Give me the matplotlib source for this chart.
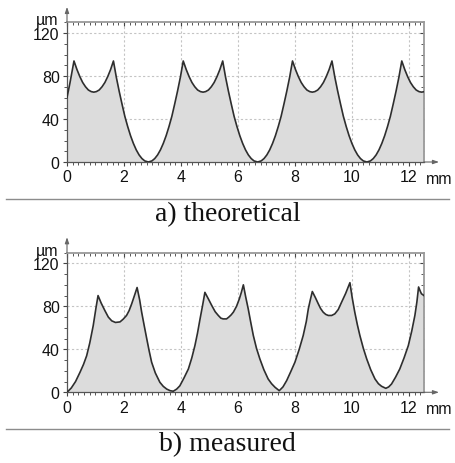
import matplotlib
matplotlib.use("Agg")
import matplotlib.pyplot as plt
from matplotlib.ticker import MultipleLocator
from matplotlib.lines import Line2D

# ---------------- data ----------------
theo_x = [0.00, 0.10, 0.245, 0.35, 0.45, 0.55, 0.65, 0.75, 0.85, 0.94, 1.03, 1.13, 1.23, 1.33, 1.43, 1.53, 1.63,
          1.73, 1.83, 1.93, 2.03, 2.13, 2.23, 2.33, 2.43, 2.53, 2.63, 2.73, 2.855, 2.98, 3.08, 3.18, 3.28, 3.38,
          3.48, 3.58, 3.68, 3.78, 3.88, 3.98, 4.08,
          4.185, 4.285, 4.385, 4.485, 4.585, 4.685, 4.775, 4.865, 4.965, 5.065, 5.165, 5.265, 5.365, 5.465,
          5.565, 5.665, 5.765, 5.865, 5.965, 6.065, 6.165, 6.265, 6.365, 6.465, 6.565, 6.69, 6.815, 6.915,
          7.015, 7.115, 7.215, 7.315, 7.415, 7.515, 7.615, 7.715, 7.815, 7.915,
          8.02, 8.12, 8.22, 8.32, 8.42, 8.52, 8.61, 8.70, 8.80, 8.90, 9.00, 9.10, 9.20, 9.30,
          9.40, 9.50, 9.60, 9.70, 9.80, 9.90, 10.00, 10.10, 10.20, 10.30, 10.40, 10.525, 10.65, 10.75,
          10.85, 10.95, 11.05, 11.15, 11.25, 11.35, 11.45, 11.55, 11.65, 11.75,
          11.855, 11.955, 12.055, 12.155, 12.255, 12.355, 12.445, 12.53]
theo_y = [60, 73, 94, 86, 79.5, 74, 70, 67, 65.5, 65, 65.5, 67, 70, 74, 79.5, 86, 94,
          79, 66, 54, 42.5, 33, 24.5, 17.3, 11.3, 6.6, 3.2, 1.0, 0, 1.0, 3.2, 6.6, 11.3, 17.3,
          24.5, 33, 42.5, 54, 66, 79, 94,
          86, 79.5, 74, 70, 67, 65.5, 65, 65.5, 67, 70, 74, 79.5, 86, 94,
          79, 66, 54, 42.5, 33, 24.5, 17.3, 11.3, 6.6, 3.2, 1.0, 0, 1.0, 3.2,
          6.6, 11.3, 17.3, 24.5, 33, 42.5, 54, 66, 79, 94,
          86, 79.5, 74, 70, 67, 65.5, 65, 65.5, 67, 70, 74, 79.5, 86, 94,
          79, 66, 54, 42.5, 33, 24.5, 17.3, 11.3, 6.6, 3.2, 1.0, 0, 1.0, 3.2,
          6.6, 11.3, 17.3, 24.5, 33, 42.5, 54, 66, 79, 94,
          86, 79.5, 74, 70, 67, 65.5, 65, 65.4]

meas_x = [0.00, 0.15, 0.30, 0.456, 0.58, 0.69, 0.80, 0.92, 1.02, 1.09, 1.20, 1.33, 1.45, 1.57, 1.70, 1.86,
          1.97, 2.09, 2.18, 2.27, 2.38, 2.46, 2.55, 2.62, 2.71, 2.80, 2.88, 2.97, 3.10, 3.26, 3.38, 3.50,
          3.62, 3.73, 3.85, 3.96, 4.10, 4.26, 4.38, 4.49, 4.58, 4.67, 4.76, 4.84, 4.96, 5.08, 5.20, 5.31,
          5.40, 5.48, 5.60, 5.68, 5.76, 5.84, 5.95, 6.05, 6.12, 6.19, 6.27, 6.36, 6.45, 6.54, 6.65, 6.77,
          6.91, 7.06, 7.18, 7.30, 7.45, 7.58, 7.71, 7.85, 8.00, 8.15, 8.29, 8.40, 8.47, 8.54, 8.61, 8.72,
          8.82, 8.90, 8.99, 9.08, 9.17, 9.29, 9.40, 9.52, 9.64, 9.78, 9.93, 10.01, 10.10, 10.19, 10.28,
          10.40, 10.52, 10.66, 10.81, 10.93, 11.04, 11.19, 11.29, 11.39, 11.53, 11.68, 11.83, 11.98,
          12.10, 12.21, 12.28, 12.34, 12.40, 12.44, 12.53]
meas_y = [0, 4, 10, 18.6, 26, 34, 46, 62, 79, 90, 83, 76, 70, 66.5, 65, 65.5,
          68, 71.5, 76, 82.3, 91, 97.5, 86, 74.6, 62, 49.7, 39, 28, 18, 9.3, 5.5, 3,
          1.5, 1, 3, 6, 13, 21.7, 32, 43.5, 55, 68.3, 81, 93, 87, 80.8, 75, 71.5,
          69, 68.3, 68.3, 70, 72, 74.6, 80, 87, 93, 100, 89, 77.7, 65, 52.8, 41, 31,
          21, 12.4, 8, 4.7, 1.5, 5, 10.9, 19, 28, 40, 52.8, 66, 77.7, 86, 93.8, 88,
          82.3, 78, 74.6, 72.5, 71.5, 71.5, 73, 77, 84, 92, 102, 88, 74.6, 63, 52.8,
          41, 31, 21, 12.4, 8, 5.6, 3.7, 5, 7.7, 14, 21.7, 32, 43.5,
          57, 71.5, 84, 98, 94, 91.7, 90]

x_ticks = [0, 2, 4, 6, 8, 10, 12]
x_tick_labels = ["0", "2", "4", "6", "8", "10", "12"]
y_ticks = [0, 40, 80, 120]
y_tick_labels = ["0", "40", "80", "120"]
captions = ["a) theoretical", "b) measured"]
x_unit = "mm"
y_unit = "µm"

# ---------------- figure ----------------
W, H = 455, 464
fig = plt.figure(figsize=(W / 100, H / 100), dpi=100)
plt.rcParams['font.family'] = ['Liberation Sans', 'DejaVu Sans']

ax_rects = [
    [67 / W, 1 - 163 / H, 357 / W, 139.7 / H],
    [67 / W, 1 - 393.3 / H, 357 / W, 139.7 / H],
]
series = [(theo_x, theo_y), (meas_x, meas_y)]
sep_y = [199.5, 429.5]
cap_base = [221.5, 451.5]

for rect, (xs, ys), sy, cy, cap in zip(ax_rects, series, sep_y, cap_base, captions):
    ax = fig.add_axes(rect)
    ax.set_xlim(0, 12.53)
    ax.set_ylim(0, 130)
    ax.set_axisbelow(True)
    ax.grid(True, color="#c4c4c4", linestyle=(0, (2, 2)), linewidth=0.8)
    ax.fill_between(xs, 0, ys, color="#dcdcdc", zorder=2, linewidth=0)
    ax.plot(xs, ys, color="#2e2e2e", linewidth=1.2, zorder=3)

    ax.set_xticks(x_ticks)
    ax.set_xticklabels(x_tick_labels)
    ax.set_yticks(y_ticks)
    ax.set_yticklabels(y_tick_labels)
    ax.xaxis.set_minor_locator(MultipleLocator(0.2))
    ax.yaxis.set_minor_locator(MultipleLocator(10))
    ax.tick_params(axis="both", which="major", labelsize=11.5, colors="#444444",
                   labelcolor="#111111", length=2.8, width=0.8)
    ax.tick_params(axis="x", which="major", pad=2.5)
    ax.tick_params(axis="y", which="major", pad=2.5)
    ax.tick_params(axis="both", which="minor", length=2.0, width=0.7, colors="#555555")
    ax.tick_params(top=True, right=True, which="both", direction="out")
    # top/right ticks point inward
    for t in ax.xaxis.get_major_ticks() + ax.xaxis.get_minor_ticks():
        t.tick2line.set_marker(3)  # TICKDOWN
        t.tick2line.set_color("#999999")
    for t in ax.yaxis.get_major_ticks() + ax.yaxis.get_minor_ticks():
        t.tick2line.set_marker(0)  # TICKLEFT
        t.tick2line.set_color("#999999")

    for side in ["left", "bottom"]:
        ax.spines[side].set_color("#555555")
        ax.spines[side].set_linewidth(0.9)
    for side in ["top", "right"]:
        ax.spines[side].set_color("#9a9a9a")
        ax.spines[side].set_linewidth(1.3)

    # axis arrows
    ax.annotate("", xy=(0, 1.11), xytext=(0, 1.0), xycoords="axes fraction",
                arrowprops=dict(arrowstyle="-|>,head_width=0.12,head_length=0.35",
                                color="#666666", lw=0.8, shrinkA=0, shrinkB=0),
                annotation_clip=False)
    ax.annotate("", xy=(1.042, 0), xytext=(1.0, 0), xycoords="axes fraction",
                arrowprops=dict(arrowstyle="-|>,head_width=0.12,head_length=0.35",
                                color="#666666", lw=0.8, shrinkA=0, shrinkB=0),
                annotation_clip=False)

    # unit labels
    ax_top_px = H * (1 - (rect[1] + rect[3]))
    ax_bot_px = H * (1 - rect[1])
    fig.text(47 / W, 1 - (ax_top_px + 2) / H, y_unit, fontsize=11.5, color="#111111",
             ha="center", va="baseline")
    fig.text(426 / W, 1 - (ax_bot_px + 21) / H, x_unit, fontsize=11.5, color="#111111",
             ha="left", va="baseline")

    # separator and caption
    fig.add_artist(Line2D([6 / W, 449 / W], [1 - sy / H, 1 - sy / H],
                          color="#8c8c8c", linewidth=1.0))
    fig.text(0.5, 1 - cy / H, cap, fontsize=20, family=["Liberation Serif", "DejaVu Serif"],
             color="#111111", ha="center", va="baseline")

fig.savefig("out.png", dpi=100)
